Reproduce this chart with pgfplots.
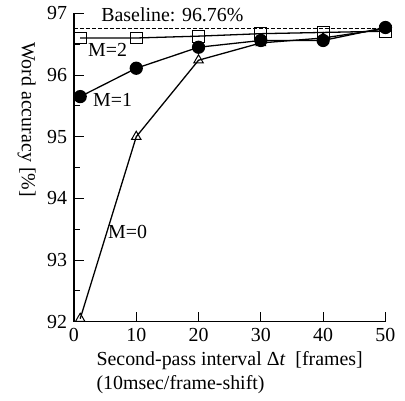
\documentclass[border=0pt]{standalone}
\usepackage{fontspec}
\setmainfont{Liberation Serif}
\usepackage{pgfplots}
\pgfplotsset{compat=1.18}
\begin{document}
\fontsize{20}{24}\selectfont
\begin{tikzpicture}
\begin{axis}[
  scale only axis,
  width=313pt, height=310pt,
  xmin=0, xmax=50, ymin=92, ymax=97,
  axis lines=left,
  axis line style={-, line width=1.2pt},
  tick align=inside,
  major tick length=10pt,
  minor tick length=6pt,
  tick style={line width=1pt, black},
  xtick={0,10,20,30,40,50},
  ytick={92,93,94,95,96,97},
  minor ytick={92.5,93.5,94.5,95.5,96.5},
  /pgf/number format/assume math mode=true,
  ticklabel style={font=\fontsize{20}{24}\selectfont},
  label style={font=\fontsize{20}{24}\selectfont},
  xlabel={Second-pass interval Δ\textit{t} \ [frames]\\(10msec/frame-shift)},
  xlabel style={align=left, yshift=4pt},
  clip=false,
]
\addplot[black, dashed, dash pattern=on 4pt off 2pt, line width=0.8pt] coordinates {(0,96.76) (50,96.76)};
\addplot[black, line width=1.3pt, mark=square, mark options={solid, fill=white, line width=1pt}, mark size=6pt]
  coordinates {(1,96.60) (10,96.60) (20,96.63) (30,96.67) (40,96.69) (50,96.71)};
\addplot[black, line width=1.3pt, mark=*, mark options={fill=black}, mark size=6pt]
  coordinates {(1,95.65) (10,96.11) (20,96.45) (30,96.56) (40,96.56) (50,96.77)};
\addplot[black, line width=1.3pt, mark=triangle, mark options={fill=white, line width=1pt}, mark size=5.5pt]
  coordinates {(1,92.05) (10,95.00) (20,96.24) (30,96.52) (40,96.60) (50,96.75)};
\node[font=\fontsize{20}{24}\selectfont] at (axis cs:15.8,96.98) {Baseline: 96.76\%};
\node[font=\fontsize{20}{24}\selectfont] at (axis cs:5.4,96.40) {M=2};
\node[font=\fontsize{20}{24}\selectfont] at (axis cs:6.2,95.60) {M=1};
\node[font=\fontsize{20}{24}\selectfont] at (axis cs:8.6,93.45) {M=0};
\node[font=\fontsize{20}{24}\selectfont, rotate=-90] at (rel axis cs:-0.152,0.655) {Word accuracy [\%]};
\end{axis}
\path ([xshift=-11pt]current bounding box.west) ([xshift=3pt]current bounding box.east);
\end{tikzpicture}
\end{document}
